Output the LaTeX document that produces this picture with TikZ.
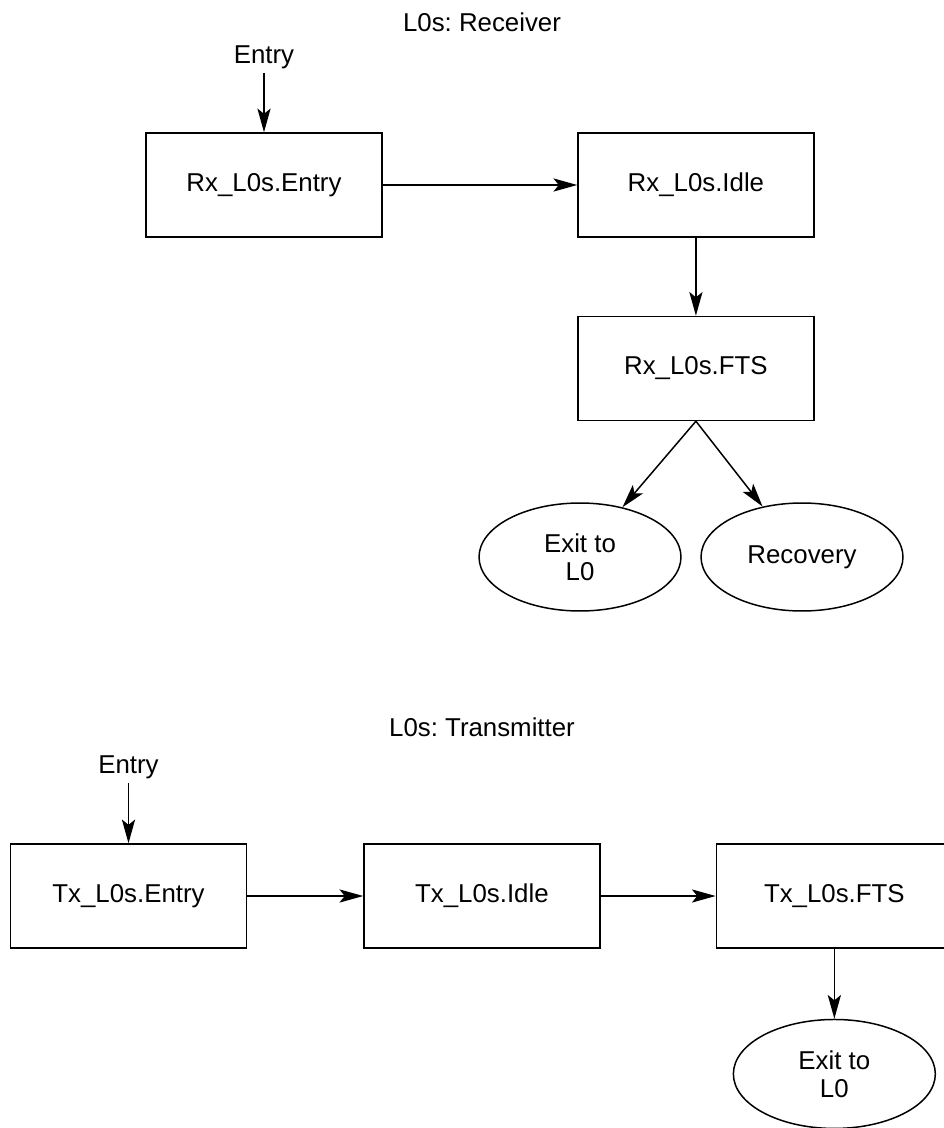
\documentclass[tikz,border=0pt]{standalone}
\usepackage{fontspec}
\setmainfont{Liberation Sans}
\usetikzlibrary{positioning,arrows.meta,shapes.geometric}
\frenchspacing

\begin{document}
\begin{tikzpicture}
 [x=0.02cm, y=-0.02cm, >={Stealth[length=13.5pt,width=7.5pt,inset=3pt]},
  font=\fontsize{14.7}{16}\selectfont, line width=0.85pt,
  state node/.style={draw, rectangle, minimum width=4.72cm, minimum height=2.08cm, inner sep=0pt},
  exit node/.style={draw, ellipse, minimum width=4.04cm, minimum height=2.16cm, inner sep=0pt, align=center},
  label node/.style={inner sep=2pt}]

\useasboundingbox (0,0) rectangle (943,1128);

% receiver
\node[label node] (rt) at (482,22) {L0s: Receiver};
\node[label node] (re) at (264,57) {Entry};
\node[state node] (r1) at (264,185) {Rx\_L0s.Entry};
   \node[state node] (r2) [right=3.89cm of r1] {Rx\_L0s.Idle};
\node[state node] (r3) [below=1.56cm of r2] {Rx\_L0s.FTS};
 \node[exit node] (r4) at (580,557) {Exit to\\L0};
 \node[exit node] (r5) at (802,557) {Recovery};

\path
  (re) edge [->] (r1)
  (r1) edge [->] (r2)
  (r2) edge [->] (r3)
  (r3.south) edge [->] (r4)
  (r3.south) edge [->] (r5);

% transmitter
\node[label node] (tt) at (482,727) {L0s: Transmitter};
\node[label node] (te) at (128.5,767) {Entry};
\node[state node] (t1) at (128.5,896) {Tx\_L0s.Entry};
 \node[state node] (t2) [right=2.32cm of t1] {Tx\_L0s.Idle};
 \node[state node] (t3) [right=2.3cm of t2] {Tx\_L0s.FTS};
  \node[exit node, minimum height=2.18cm] (t4) [below=1.4cm of t3] {Exit to\\L0};

\path
  (te) edge [->] (t1)
  (t1) edge [->] (t2)
  (t2) edge [->] (t3)
  (t3) edge [->] (t4);

\end{tikzpicture}
\end{document}
